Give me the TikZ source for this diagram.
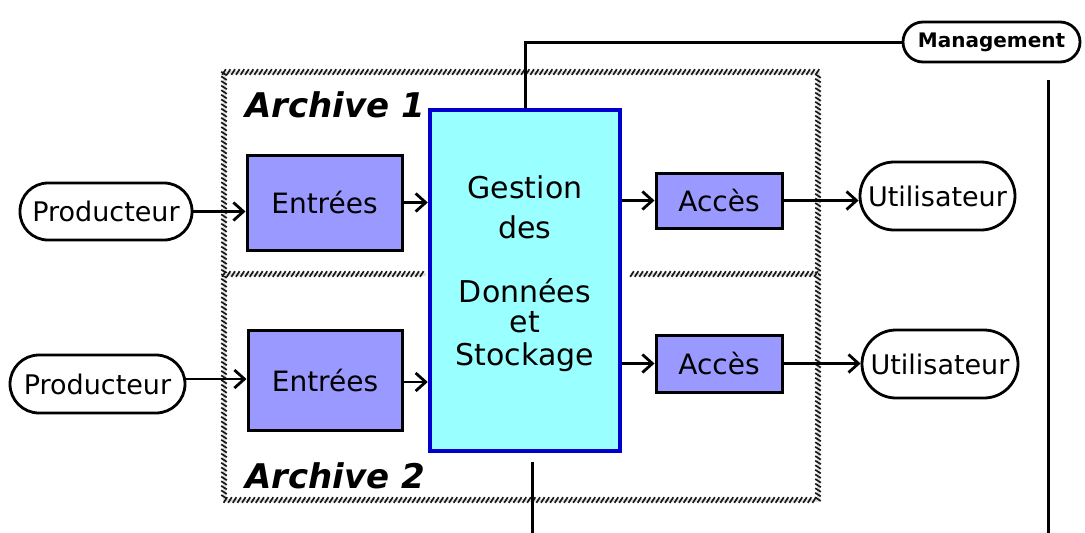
\documentclass[tikz,border=0pt]{standalone}
\usepackage{fontspec}
\setmainfont{DejaVu Sans}
\usetikzlibrary{arrows.meta,calc,decorations.markings}

\definecolor{boxlav}{RGB}{153,153,255}
\definecolor{boxcyan}{RGB}{153,255,255}
\definecolor{boxblue}{RGB}{0,0,204}

\tikzset{
  % hatched border: a row of short slanted strokes along the path
  frame/.style={draw=black!12, line width=3pt,
    postaction={decorate, decoration={markings,
      mark=between positions 0 and 1 step 4.6pt with
        {\draw[black!90, line width=1.7pt] (-1.8pt,-2.8pt) -- (1.8pt,2.8pt);}}}},
  subbox/.style={draw=black, line width=3pt, fill=boxlav, inner sep=0pt,
                 font=\fontsize{28}{32}\selectfont},
  actor/.style={draw=black, line width=2.8pt, fill=white, inner sep=0pt,
                font=\fontsize{27}{32}\selectfont},
  core/.style={draw=boxblue, line width=4.5pt, fill=boxcyan, inner sep=0pt},
  coretext/.style={anchor=base, font=\fontsize{30}{36}\selectfont},
  archlabel/.style={font=\fontsize{34}{40}\selectfont\bfseries\itshape},
  flow/.style={line width=2.8pt, -{Straight Barb[length=10pt,width=18pt,line width=2.8pt]}},
  link/.style={line width=3pt}
}

\begin{document}
\begin{tikzpicture}[x=1pt,y=-1pt]
\useasboundingbox (0,0) rectangle (1085,533);

% archive frames
\draw[frame] (224,72) -- (818,72) -- (818,500) -- (224,500) -- cycle;
\draw[frame] (224,274) -- (426,274);
\draw[frame] (632,274) -- (818,274);

\node[archlabel] (arch1) at (335,105) {Archive 1};
\node[archlabel] (arch2) at (335,476) {Archive 2};

% central data management and storage block
\node[core, minimum width=190pt, minimum height=341pt] (g) at (525,280.5) {};
\node[coretext] (gt1) at (525,198) {Gestion};
\node[coretext] (gt2) at (525,238) {des};
\node[coretext] (gt3) at (525,302) {Données};
\node[coretext] (gt4) at (525,332) {et};
\node[coretext] (gt5) at (525,365) {Stockage};

% ingest and access functions
\node[subbox, minimum width=155pt, minimum height=95pt] (e1) at (324.5,202.5) {Entrées};
\node[subbox, minimum width=154pt, minimum height=100pt] (e2) at (325,380) {Entrées};
\node[subbox, minimum width=126pt, minimum height=55pt] (a1) at (719,200.5) {Accès};
\node[subbox, minimum width=126pt, minimum height=57pt] (a2) at (719,363.5) {Accès};

% external actors
\node[actor, rounded corners=28pt, minimum width=172pt, minimum height=57pt] (p1) at (106,211.5) {Producteur};
\node[actor, rounded corners=29pt, minimum width=175pt, minimum height=58pt] (p2) at (97.5,384) {Producteur};
\node[actor, rounded corners=34pt, minimum width=155pt, minimum height=68pt] (u1) at (937.5,196) {Utilisateur};
\node[actor, rounded corners=34pt, minimum width=156pt, minimum height=68pt] (u2) at (940,364) {Utilisateur};
\node[actor, rounded corners=20pt, minimum width=177pt, minimum height=40pt,
      font=\fontsize{20}{22}\selectfont\bfseries] (m) at (991.5,42) {Management};

% data flows
\draw[flow] (p1.east) -- (p1.east -| e1.west);
\draw[flow] (e1.east) -- (e1.east -| g.west);
\draw[flow] (a1.west -| g.east) -- (a1.west);
\draw[flow] (a1.east) -- (a1.east -| u1.west);

\coordinate (p2out) at ($(p2.east)+(0,-5)$);
\draw[flow] (p2out) -- (p2out -| e2.west);
\coordinate (e2out) at ($(e2.east)+(0,2)$);
\draw[flow] (e2out) -- (e2out -| g.west);
\draw[flow] (a2.west -| g.east) -- (a2.west);
\draw[flow] (a2.east) -- (a2.east -| u2.west);

% management links
\draw[link] (g.north) |- (m.west);
\coordinate (mtop) at (1048,80);
\coordinate (mbot) at (1048,533);
\draw[link] (mtop) -- (mbot);
\coordinate (gbot1) at (532,462);
\coordinate (gbot2) at (532,533);
\draw[link] (gbot1) -- (gbot2);
\end{tikzpicture}
\end{document}
